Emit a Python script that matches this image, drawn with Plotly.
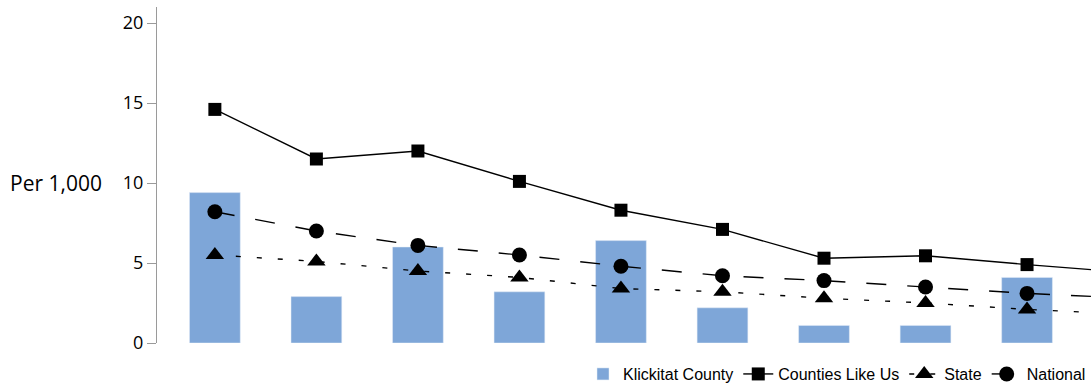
import plotly.graph_objects as go

# categories (axis labels are not shown in the chart)
categories = ["1", "2", "3", "4", "5", "6", "7", "8", "9", "10"]

klickitat = [9.4, 2.9, 6.0, 3.2, 6.4, 2.2, 1.1, 1.1, 4.1, None]
counties_like_us = [14.6, 11.5, 12.0, 10.1, 8.3, 7.1, 5.3, 5.45, 4.9, 4.4]
state = [5.5, 5.1, 4.5, 4.1, 3.4, 3.2, 2.8, 2.5, 2.1, 1.8]
national = [8.2, 7.0, 6.1, 5.5, 4.8, 4.2, 3.9, 3.5, 3.1, 2.8]

fig = go.Figure()

fig.add_trace(go.Bar(x=categories, y=klickitat, name="Klickitat County",
                     marker_color="#7ea6d8", width=0.5))

fig.add_trace(go.Scatter(x=categories, y=counties_like_us, name="Counties Like Us",
                         mode="lines+markers",
                         line=dict(color="black", width=1.4),
                         marker=dict(symbol="square", size=13, color="black")))

fig.add_trace(go.Scatter(x=categories, y=state, name="State",
                         mode="lines+markers",
                         line=dict(color="black", width=1.4, dash="5px,16px"),
                         marker=dict(symbol="triangle-up", size=16, color="black")))

fig.add_trace(go.Scatter(x=categories, y=national, name="National",
                         mode="lines+markers",
                         line=dict(color="black", width=1.4, dash="20px,21px"),
                         marker=dict(symbol="circle", size=15, color="black")))

fig.add_annotation(text="Per 1,000", xref="paper", yref="paper",
                   x=-0.057, y=0.476, xanchor="right", yanchor="middle",
                   showarrow=False, font=dict(size=21, color="black"))

fig.update_layout(
    width=1091,
    height=386,
    margin=dict(l=157, r=0, t=7, b=43, autoexpand=False),
    plot_bgcolor="white",
    paper_bgcolor="white",
    font=dict(family="Open Sans, sans-serif", color="black"),
    showlegend=True,
    legend=dict(orientation="h", xref="container", yref="container",
                x=1.0, xanchor="right", y=0.031, yanchor="middle",
                font=dict(family="Liberation Sans, sans-serif", size=16),
                itemwidth=30, traceorder="normal"),
    xaxis=dict(type="category", range=[-0.57, 8.63], showticklabels=False,
               showline=False, showgrid=False, zeroline=False, ticks=""),
    yaxis=dict(range=[0, 21], tickvals=[0, 5, 10, 15, 20], showgrid=False,
               zeroline=False, showline=True, linecolor="#9a9a9a", linewidth=1.2,
               ticks="outside", ticklen=9, tickcolor="#9a9a9a",
               tickfont=dict(size=18, color="black")),
)

# the page body has a default 8px margin; drop it so the figure fills the window
fig.write_html("out.html", config={"displayModeBar": False},
               post_script="document.body.style.margin='0';document.body.style.overflow='hidden';")
